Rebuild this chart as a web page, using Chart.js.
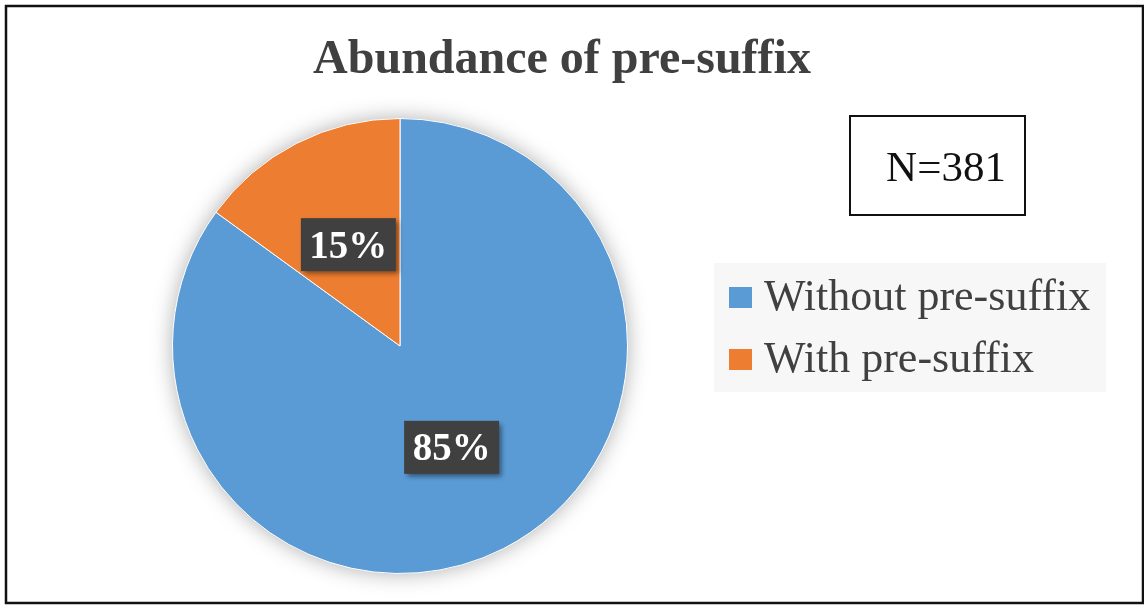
<!DOCTYPE html>
<html>
<head>
<meta charset="utf-8">
<script src="https://cdn.jsdelivr.net/npm/chart.js@4/dist/chart.umd.min.js"></script>
<style>
  html, body { margin: 0; padding: 0; background: #fff; }
  #wrap { width: 1144px; height: 605px; position: relative; }
</style>
</head>
<body>
<div id="wrap"><canvas id="pieChart" width="1144" height="605"></canvas></div>
<script>
const categories = ['Without pre-suffix', 'With pre-suffix'];
const shares = [85, 15];
const sliceColors = ['#5B9BD5', '#ED7D31'];
const chartTitle = 'Abundance of pre-suffix';
const sampleNote = 'N=381';

const SERIF = '"Liberation Serif", "Times New Roman", serif';

// frame, title, N box and legend drawn around the pie
const decorPlugin = {
    id: 'decor',
    beforeDraw(chart) {
        const ctx = chart.ctx;
        ctx.save();
        ctx.fillStyle = '#fff';
        ctx.fillRect(0, 0, chart.width, chart.height);
        ctx.strokeStyle = '#111';
        ctx.lineWidth = 2.5;
        ctx.strokeRect(6, 6, 1137, 597);

        ctx.fillStyle = '#404040';
        ctx.font = 'bold 48px ' + SERIF;
        ctx.textAlign = 'center';
        ctx.textBaseline = 'alphabetic';
        ctx.fillText(chartTitle, 562, 73);

        // N box
        ctx.strokeStyle = '#111';
        ctx.lineWidth = 2;
        ctx.strokeRect(850, 116, 175, 99);
        ctx.fillStyle = '#111';
        ctx.font = '43px ' + SERIF;
        ctx.fillText(sampleNote, 946, 181);

        // legend
        ctx.fillStyle = '#f7f7f7';
        ctx.fillRect(714, 263, 392, 129);
        ctx.textAlign = 'left';
        ctx.font = '44px ' + SERIF;
        categories.forEach((name, i) => {
            const y = 310 + i * 62;
            ctx.fillStyle = sliceColors[i];
            ctx.fillRect(729, y - 23, 23, 21);
            ctx.fillStyle = '#404040';
            ctx.fillText(name, 764, y);
        });
        ctx.restore();
    },
    beforeDatasetsDraw(chart) {
        // soft shadow behind the pie
        const arc = chart.getDatasetMeta(0).data[0];
        if (!arc) return;
        const ctx = chart.ctx;
        ctx.save();
        ctx.shadowColor = 'rgba(0,0,0,0.35)';
        ctx.shadowBlur = 22;
        ctx.fillStyle = '#5B9BD5';
        ctx.beginPath();
        ctx.arc(arc.x, arc.y, arc.outerRadius - 1, 0, Math.PI * 2);
        ctx.fill();
        ctx.restore();
    },
    afterDatasetsDraw(chart) {
        const ctx = chart.ctx;
        const meta = chart.getDatasetMeta(0);
        ctx.save();
        ctx.font = 'bold 39px ' + SERIF;
        ctx.textAlign = 'center';
        ctx.textBaseline = 'alphabetic';
        meta.data.forEach((arc, i) => {
            const p = arc.tooltipPosition();
            const text = shares[i] + '%';
            const w = 95, h = 53;
            ctx.save();
            ctx.shadowColor = 'rgba(0,0,0,0.45)';
            ctx.shadowBlur = 5;
            ctx.shadowOffsetX = 3;
            ctx.shadowOffsetY = 3;
            ctx.fillStyle = '#404040';
            ctx.fillRect(p.x - w / 2, p.y - h / 2, w, h);
            ctx.restore();
            ctx.fillStyle = '#fff';
            ctx.fillText(text, p.x, p.y + 13);
        });
        ctx.restore();
    }
};

new Chart(document.getElementById('pieChart').getContext('2d'), {
    type: 'pie',
    data: {
        labels: categories,
        datasets: [{
            data: shares,
            backgroundColor: sliceColors,
            borderColor: '#fff',
            borderWidth: 1
        }]
    },
    options: {
        responsive: false,
        animation: false,
        layout: { padding: { left: 172, right: 516, top: 118, bottom: 31 } },
        plugins: {
            legend: { display: false },
            title: { display: false },
            tooltip: { enabled: false }
        }
    },
    plugins: [decorPlugin]
});
</script>
</body>
</html>
